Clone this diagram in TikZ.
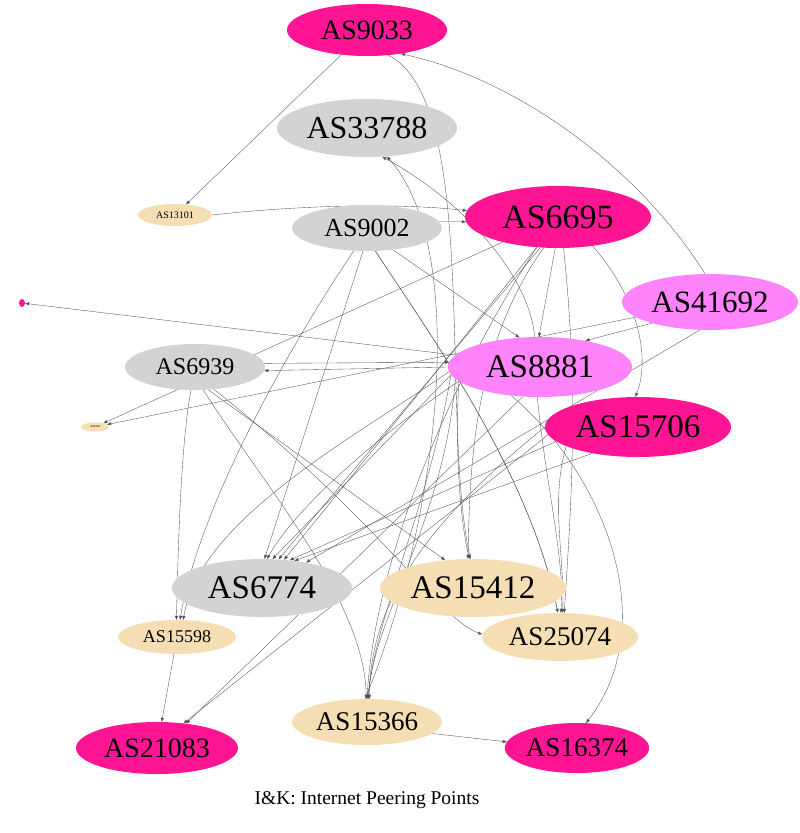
\documentclass[tikz,border=0pt]{standalone}
\usepackage{fontspec}
\setmainfont{Liberation Serif}
\usetikzlibrary{shapes.geometric,arrows.meta}
\pgfdeclarelayer{bg}
\pgfsetlayers{bg,main}
\definecolor{dpink}{HTML}{FF1493}
\definecolor{orch}{HTML}{FF83FA}
\definecolor{lgray}{HTML}{D3D3D3}
\definecolor{wheat}{HTML}{F5DEB3}
\definecolor{edgec}{HTML}{505050}
\newcommand\fsz[1]{\fontsize{#1}{#1}\selectfont}
\begin{document}
\begin{tikzpicture}[x=1pt,y=-1pt,
  nd/.style={ellipse, inner sep=0pt, draw=none},
  e/.style={draw=edgec, line width=0.35pt, -{Triangle[length=4pt,width=3pt]}},
  ee/.style={draw=edgec, line width=0.35pt}]
\useasboundingbox (0,0) rectangle (800,833);
% nodes
\node[nd, fill=dpink, minimum width=160pt, minimum height=52pt, font=\fsz{28}] (AS9033) at (367,30) {AS9033};
\node[nd, fill=lgray, minimum width=180pt, minimum height=58pt, font=\fsz{32}] (AS33788) at (367,128) {AS33788};
\node[nd, fill=wheat, minimum width=74pt, minimum height=22pt, font=\fsz{10}] (AS13101) at (175,215) {AS13101};
\node[nd, fill=lgray, minimum width=150pt, minimum height=46pt, font=\fsz{26}] (AS9002) at (367,228) {AS9002};
\node[nd, fill=dpink, minimum width=186pt, minimum height=62pt, font=\fsz{34}] (AS6695) at (558,217) {AS6695};
\node[nd, fill=orch, minimum width=176pt, minimum height=56pt, font=\fsz{31}] (AS41692) at (710,302) {AS41692};
\node[nd, fill=dpink, minimum width=6pt, minimum height=8pt] (tinyM) at (22,303) {};
\node[nd, fill=lgray, minimum width=140pt, minimum height=46pt, font=\fsz{24}] (AS6939) at (195,367) {AS6939};
\node[nd, fill=orch, minimum width=184pt, minimum height=60pt, font=\fsz{33}] (AS8881) at (540,367) {AS8881};
\node[nd, fill=wheat, minimum width=28pt, minimum height=9pt, font=\fsz{3}] (tinyW) at (95,427) {AS8220};
\node[nd, fill=dpink, minimum width=186pt, minimum height=60pt, font=\fsz{33}] (AS15706) at (638,427) {AS15706};
\node[nd, fill=lgray, minimum width=180pt, minimum height=58pt, font=\fsz{33}] (AS6774) at (262,588) {AS6774};
\node[nd, fill=wheat, minimum width=186pt, minimum height=58pt, font=\fsz{33}] (AS15412) at (473,588) {AS15412};
\node[nd, fill=wheat, minimum width=118pt, minimum height=34pt, font=\fsz{18}] (AS15598) at (177,637) {AS15598};
\node[nd, fill=wheat, minimum width=156pt, minimum height=48pt, font=\fsz{27}] (AS25074) at (560,637) {AS25074};
\node[nd, fill=wheat, minimum width=150pt, minimum height=46pt, font=\fsz{27}] (AS15366) at (367,722) {AS15366};
\node[nd, fill=dpink, minimum width=162pt, minimum height=52pt, font=\fsz{28}] (AS21083) at (157,748) {AS21083};
\node[nd, fill=dpink, minimum width=144pt, minimum height=50pt, font=\fsz{27}] (AS16374) at (577,748) {AS16374};
\node[font=\fsz{19.5}] (title) at (367,800) {I\&K: Internet Peering Points};
% edges
\begin{pgfonlayer}{bg}
\draw[e] (AS9033) -- (AS13101);
\draw[e] (AS41692.100) .. controls (640,170) and (520,80) .. (AS9033.-35);
\draw[e] (AS9033.-50) .. controls (480,100) and (440,420) .. (AS15412.95);
\draw[e] (AS13101.east) .. controls (300,205) and (400,203) .. (AS6695.176);
\draw[e] (AS9002.5) -- (AS6695.183);
\draw[e] (AS8881.100) .. controls (530,280) and (470,205) .. (AS33788.-62);
\draw[e] (AS15366.95) .. controls (440,520) and (470,250) .. (AS33788.-55);
\draw[e] (AS6939.3) -- (AS8881.177);
\draw[e] (AS8881.180) -- (AS6939.-3);
\draw[e] (AS8881.172) -- (tinyM);
\draw[e] (AS6695) -- (tinyW);
\draw[e] (AS41692) -- (tinyW);
\draw[e] (AS6695.265) -- (AS8881.92);
\draw[e] (AS41692.200) -- (AS8881.30);
\draw[e] (AS6695.-40) .. controls (640,300) and (650,360) .. (AS15706.95);
\draw[e] (AS9002.-40) -- (AS8881.125);
\draw[e, line width=0.6pt] (AS9002.-70) .. controls (420,320) and (530,470) .. (AS25074.95);
\draw[e] (AS9002.-120) .. controls (300,330) and (200,500) .. (AS15598.80);
\draw[e] (AS9002.-100) -- (AS6774.85);
\draw[e] (AS6939.-100) .. controls (180,450) and (178,560) .. (AS15598.92);
\draw[e] (AS6939.-70) .. controls (260,480) and (365,600) .. (AS15366.92);
\draw[e] (AS6939.-60) -- (AS15412.135);
\draw[e] (AS6939.-50) .. controls (380,520) and (440,620) .. (AS25074.178);
\draw[e] (AS6695.240) -- (AS6774.60);
\draw[e] (AS6695.235) -- (AS6774.52);
\draw[e] (AS8881.185) -- (AS6774.70);
\draw[e] (AS8881.190) .. controls (400,420) and (300,500) .. (AS6774.80);
\draw[e] (AS8881.183) .. controls (350,440) and (200,520) .. (AS15598.70);
\draw[e] (AS8881.185) .. controls (430,500) and (375,620) .. (AS15366.88);
\draw[e] (AS8881.188) .. controls (445,520) and (372,620) .. (AS15366.86);
\draw[e] (AS8881.190) .. controls (455,450) and (460,520) .. (AS15412.97);
\draw[e] (AS8881.-95) .. controls (545,480) and (565,560) .. (AS25074.88);
\draw[e] (AS8881.-120) -- (AS21083.40);
\draw[e] (AS8881.-135) .. controls (600,470) and (665,620) .. (AS16374.70);
\draw[e] (AS15706.-150) -- (AS6774.40);
\draw[e] (AS15706.190) -- (AS6774.45);
\draw[e] (AS15706.185) -- (AS21083.43);
\draw[e] (AS15706.195) .. controls (550,500) and (565,560) .. (AS25074.84);
\draw[e] (AS15706.180) .. controls (430,520) and (370,600) .. (AS15366.84);
\draw[e] (AS41692.-110) -- (AS6774.30);
\draw[e] (AS15366.-10) -- (AS16374.175);
\draw[e] (AS15598) -- (AS21083);
\draw[e] (AS6695.-80) .. controls (580,400) and (570,520) .. (AS25074.80);
\draw[e] (AS6695.235) .. controls (450,380) and (375,560) .. (AS15366.90);
\draw[e] (AS6695.245) .. controls (470,350) and (470,480) .. (AS15412.100);
\end{pgfonlayer}
\end{tikzpicture}
\end{document}
